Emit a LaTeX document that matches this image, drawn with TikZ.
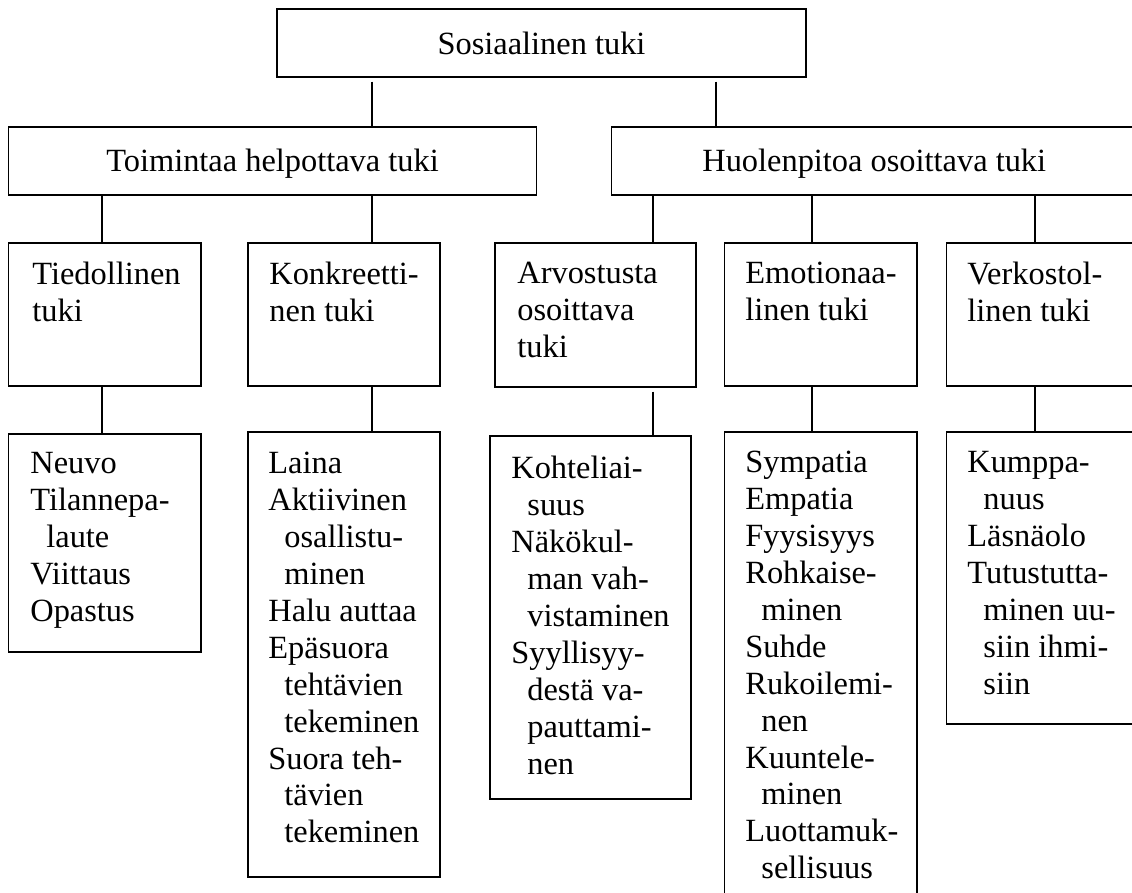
\documentclass[tikz,border=0pt]{standalone}
\usepackage{fontspec}
\setmainfont{Liberation Serif}
\usetikzlibrary{fit}

\tikzset{
  kehys/.style={draw, line width=0.7pt, inner sep=0pt},
  otsikko/.style={anchor=base, inner sep=0pt},
  teksti/.style={anchor=north west, align=left, inner sep=0pt},
  viiva/.style={line width=0.55pt}
}
\newcommand{\sisenna}{\hspace*{8pt}}

\begin{document}
\begin{tikzpicture}[x=0.5pt, y=-0.5pt, font=\fontsize{16.2}{18.45}\selectfont]
    \useasboundingbox (0,0) rectangle (1132,893);
    \clip (0,0) rectangle (1132,893);

    % Connector columns
    \coordinate (p-toim) at (372,0);
    \coordinate (p-huol) at (716,0);
    \coordinate (p-tied) at (102,0);
    \coordinate (p-konk) at (372,0);
    \coordinate (p-arvo) at (653,0);
    \coordinate (p-emot) at (812,0);
    \coordinate (p-verk) at (1035,0);

    % Top level
    \node[kehys, fit={(277,9) (806,77)}] (sos) {};
    \node[otsikko] (sos-t) at ([yshift=-6pt]sos.center) {Sosiaalinen tuki};

    % Second level
    \node[kehys, fit={(8.5,127) (536.5,195)}] (toim) {};
    \node[kehys, fit={(611.5,127) (1137,195)}] (huol) {};
    \node[otsikko] (toim-t) at ([yshift=-5.5pt]toim.center) {Toimintaa helpottava tuki};
    \node[otsikko] (huol-t) at ([yshift=-5.5pt]huol.center) {Huolenpitoa osoittava tuki};

    % Third level
    \node[kehys, fit={(8.5,243) (201,386)}] (tied) {};
    \node[kehys, fit={(248,243) (440,386)}] (konk) {};
    \node[kehys, fit={(495,243) (696,387)}] (arvo) {};
    \node[kehys, fit={(724.5,243) (917,386)}] (emot) {};
    \node[kehys, fit={(946.5,243) (1145,386)}] (verk) {};

    \node[teksti] (tied-t) at (32,262) {Tiedollinen\\tuki};
    \node[teksti] (konk-t) at (269,262) {Konkreetti-\\nen tuki};
    \node[teksti] (arvo-t) at (517,262) {Arvostusta\\osoittava\\tuki};
    \node[teksti] (emot-t) at (745,262) {Emotionaa-\\linen tuki};
    \node[teksti] (verk-t) at (967,262) {Verkostol-\\linen tuki};

    % Fourth level
    \node[kehys, fit={(8.5,434) (201,652)}] (neuvo) {};
    \node[kehys, fit={(248,432) (440,877)}] (laina) {};
    \node[kehys, fit={(490,436) (691,799)}] (kohte) {};
    \node[kehys, fit={(724.5,432) (917,910)}] (symp) {};
    \node[kehys, fit={(946.5,432) (1145,724)}] (kump) {};

    \node[teksti] (neuvo-t) at (30,452) {Neuvo\\Tilannepa-\\\sisenna laute\\Viittaus\\Opastus};
    \node[teksti] (laina-t) at (268,452) {Laina\\Aktiivinen\\\sisenna osallistu-\\\sisenna minen\\Halu auttaa\\Epäsuora\\\sisenna tehtävien\\\sisenna tekeminen\\Suora teh-\\\sisenna tävien\\\sisenna tekeminen};
    \node[teksti] (kohte-t) at (511,456) {Kohteliai-\\\sisenna suus\\Näkökul-\\\sisenna man vah-\\\sisenna vistaminen\\Syyllisyy-\\\sisenna destä va-\\\sisenna pauttami-\\\sisenna nen};
    \node[teksti] (symp-t) at (745,451) {Sympatia\\Empatia\\Fyysisyys\\Rohkaise-\\\sisenna minen\\Suhde\\Rukoilemi-\\\sisenna nen\\Kuuntele-\\\sisenna minen\\Luottamuk-\\\sisenna sellisuus};
    \node[teksti] (kump-t) at (967,451) {Kumppa-\\\sisenna nuus\\Läsnäolo\\Tutustutta-\\\sisenna minen uu-\\\sisenna siin ihmi-\\\sisenna siin};

    % Connectors
    \draw[viiva, shorten <=2pt] (sos.south -| p-toim) -- (toim.north -| p-toim);
    \draw[viiva, shorten <=2pt] (sos.south -| p-huol) -- (huol.north -| p-huol);

    \draw[viiva] (toim.south -| p-tied) -- (tied.north -| p-tied);
    \draw[viiva] (toim.south -| p-konk) -- (konk.north -| p-konk);
    \draw[viiva] (huol.south -| p-arvo) -- (arvo.north -| p-arvo);
    \draw[viiva] (huol.south -| p-emot) -- (emot.north -| p-emot);
    \draw[viiva] (huol.south -| p-verk) -- (verk.north -| p-verk);

    \draw[viiva] (tied.south -| p-tied) -- (neuvo.north -| p-tied);
    \draw[viiva] (konk.south -| p-konk) -- (laina.north -| p-konk);
    \draw[viiva, shorten <=2pt] (arvo.south -| p-arvo) -- (kohte.north -| p-arvo);
    \draw[viiva] (emot.south -| p-emot) -- (symp.north -| p-emot);
    \draw[viiva] (verk.south -| p-verk) -- (kump.north -| p-verk);
\end{tikzpicture}
\end{document}
